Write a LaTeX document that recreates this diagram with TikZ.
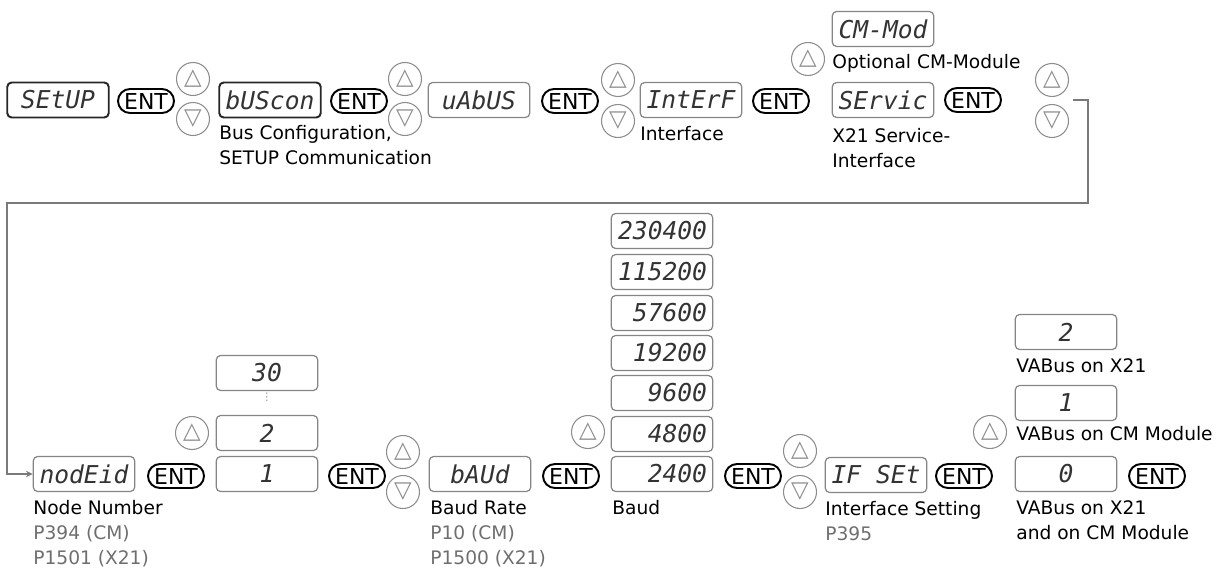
\documentclass[tikz,border=0pt]{standalone}
\usepackage{fontspec}
\setmainfont{DejaVu Sans}
\newfontfamily\segfont{DejaVu Sans Mono}
\usepackage{tikz}
\usetikzlibrary{positioning}
\definecolor{KeyGray}{HTML}{8C8C8C}
\definecolor{BoxGray}{HTML}{858585}
\definecolor{SegInk}{HTML}{333333}
\definecolor{ParGray}{HTML}{6E6E6E}
\definecolor{LinkGray}{HTML}{7A7A7A}

\begin{document}
\begin{tikzpicture}[>=stealth,x=0.02cm,y=-0.02cm,
  disp/.style={draw=BoxGray,line width=0.7pt,rounded corners=2.5pt,minimum width=2.03cm,
    minimum height=0.7cm,inner sep=0pt,text=SegInk,
    font=\segfont\itshape\fontsize{14}{14}\selectfont},
  dispb/.style={disp,draw=black!85,line width=1.1pt},
  rate/.style={disp,text width=1.8cm,align=right},
  ent/.style={draw=black,line width=1.1pt,rounded corners=0.24cm,minimum width=1.12cm,
    minimum height=0.48cm,inner sep=0pt,font=\fontsize{12.5}{12.5}\selectfont},
  key/.style={circle,draw=KeyGray,line width=0.6pt,minimum size=0.66cm,inner sep=0pt,
    text=KeyGray,font=\fontsize{13}{13}\selectfont},
  lbl/.style={anchor=north west,inner sep=0pt,align=left,
    font=\fontsize{10.6}{14.2}\selectfont},
  link/.style={draw=LinkGray,line width=0.7pt}]
  \useasboundingbox (0,0) rectangle (1226,568);

  % top row
  \node[dispb] (setup) at (58,100) {SEtUP};
  \node[ent] (ent1) at (146,101) {ENT};
  \node[key] (up1) at (193,79) {△};
  \node[key] (dn1) at (193,119) {▽};
  \node[dispb] (buscon) at (270,100) {bUScon};
  \node[lbl] (buslbl) at (219,125) {Bus Configuration,\\SETUP Communication};
  \node[ent] (ent2) at (359,101) {ENT};
  \node[key] (up2) at (405,79) {△};
  \node[key] (dn2) at (405,119) {▽};
  \node[disp] (vabus) at (479,100) {uAbUS};
  \node[ent] (ent3) at (570,101) {ENT};
  \node[key] (up3) at (618,80) {△};
  \node[key] (dn3) at (618,121) {▽};
  \node[disp] (interf) at (691,100) {IntErF};
  \node[lbl] (intlbl) at (640,126) {Interface};
  \node[ent] (ent4) at (781,101) {ENT};
  \node[key] (up4) at (808,59) {△};
  \node[disp] (cmmod) at (883,29) {CM-Mod};
  \node[lbl] (cmlbl) at (832,54) {Optional CM-Module};
  \node[disp] (servic) at (883,100) {SErvic};
  \node[lbl] (servlbl) at (832,128) {X21 Service-\\Interface};
  \node[ent] (ent5) at (973,100) {ENT};
  \node[key] (up5) at (1052,80) {△};
  \node[key] (dn5) at (1052,121) {▽};
  \coordinate (wrap) at (1073,100);

  % bottom row
  \node[disp] (nodeid) at (84,474) {nodEid};
  \node[lbl] (nodelbl) at (33,500) {Node Number\\\color{ParGray}P394 (CM)\\\color{ParGray}P1501 (X21)};
  \node[ent] (ent6) at (176,476) {ENT};
  \node[key] (up6) at (192,433) {△};
  \node[disp] (id30) at (267,373) {30};
  \node[inner sep=0pt,text=KeyGray,font=\fontsize{6}{6}\selectfont] (iddots) at (267,397) {⋮};
  \node[disp] (id2) at (267,433) {2};
  \node[disp] (id1) at (267,474) {1};
  \node[ent] (ent7) at (357,476) {ENT};
  \node[key] (up7) at (403,452) {△};
  \node[key] (dn7) at (403,492) {▽};
  \node[disp] (baud) at (480,474) {bAUd};
  \node[lbl] (baudlbl) at (430,500) {Baud Rate\\\color{ParGray}P10 (CM)\\\color{ParGray}P1500 (X21)};
  \node[ent] (ent8) at (571,476) {ENT};
  \node[key] (up8) at (588,432) {△};
  \node[rate] (r230) at (662,231) {230400};
  \node[rate] (r115) at (662,272) {115200};
  \node[rate] (r576) at (662,313) {57600};
  \node[rate] (r192) at (662,353) {19200};
  \node[rate] (r96) at (662,393) {9600};
  \node[rate] (r48) at (662,434) {4800};
  \node[rate] (r24) at (662,474) {2400};
  \node[lbl] (ratelbl) at (612,500) {Baud};
  \node[ent] (ent9) at (753,476) {ENT};
  \node[key] (up9) at (800,451) {△};
  \node[key] (dn9) at (800,492) {▽};
  \node[disp] (ifset) at (876,475) {IF SEt};
  \node[lbl] (iflbl) at (825,501) {Interface Setting\\\color{ParGray}P395};
  \node[ent] (ent10) at (964,476) {ENT};
  \node[key] (up10) at (990,432) {△};
  \node[disp] (vb2) at (1066,332) {2};
  \node[lbl] (vb2lbl) at (1016,358) {VABus on X21};
  \node[disp] (vb1) at (1066,403) {1};
  \node[lbl] (vb1lbl) at (1016,426) {VABus on CM Module};
  \node[disp] (vb0) at (1066,474) {0};
  \node[lbl] (vb0lbl) at (1016,500) {VABus on X21\\and on CM Module};
  \node[ent] (ent11) at (1157,476) {ENT};

  \draw[link,->] (wrap) -| (1088,203) -- (7,203) |- (nodeid.west);
\end{tikzpicture}
\end{document}
